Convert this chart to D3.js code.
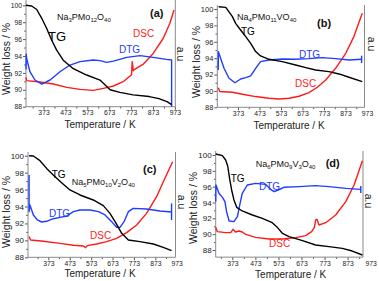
<!DOCTYPE html>
<html>
<head>
<meta charset="utf-8">
<script src="https://cdn.jsdelivr.net/npm/d3@7"></script>
<style>
  body { margin: 0; background: #fff; }
  svg { font-family: "Liberation Sans", Arial, sans-serif; }
</style>
</head>
<body>
<svg id="fig" width="379" height="281"></svg>
<script>
// ticks shared by all four panels
var xTicks = [373, 473, 573, 673, 773, 873, 973];
var xMinor = [323, 423, 523, 623, 723, 823, 923];
var yTicks = [88, 90, 92, 94, 96, 98, 100];
var yMinor = [89, 91, 93, 95, 97, 99];

// (a) Na3PMo12O40 : [T / K, value]  (DTG & DSC in a.u, read against left axis)
var tgA = [[293,100],[319,99.92],[342,99.5],[365,98.46],[387,97.28],[410,95.9],[433,94.7],[463,93.5],[509,92.5],[570,91.75],[631,91.15],[677,90.0],[722,89.7],[782,89.4],[856,89.2],[900,88.95],[937,88.6],[958,88.25]];
var dtgA = [[293,92.4],[294,94.2],[296,93.7],[311,92.14],[334,91.16],[365,90.68],[403,91.16],[448,92.14],[494,92.93],[540,93.33],[600,93.53],[631,93.45],[661,93.25],[692,93.4],[753,93.84],[814,94.04],[874,93.84],[935,93.6],[958,93.53],[958,88.0]];
var dscA = [[293,91.47],[296,91.08],[357,90.92],[418,90.68],[479,90.29],[540,90.05],[600,89.93],[646,90.17],[692,90.45],[737,90.96],[775,91.79],[778,93.33],[783,92.26],[789,92.42],[829,93.05],[874,94.3],[920,96.1],[950,97.87],[969,99.45]];

// (b) Na4PMo11VO40
var tgB = [[283,100.28],[316,100.2],[347,99.07],[362,98.25],[385,97.44],[409,96.63],[432,95.81],[455,94.8],[478,94.27],[517,93.86],[579,93.58],[641,93.17],[688,92.85],[734,92.56],[796,92.36],[843,92.07],[889,91.67],[951,91.14]];
var dtgB = [[281,92.56],[282,94.8],[292,93.98],[308,92.76],[331,91.54],[359,91.0],[385,91.46],[409,91.63],[432,91.83],[455,92.76],[478,93.58],[517,93.78],[579,93.9],[641,93.86],[703,93.94],[765,94.07],[827,93.94],[889,93.78],[948,93.86]];
var dscB = [[281,90.4],[288,89.92],[347,89.84],[393,89.6],[455,89.31],[517,89.11],[564,89.02],[610,89.11],[657,89.35],[703,89.8],[742,90.45],[781,91.34],[827,92.76],[874,94.59],[912,96.63],[951,99.47]];
var capB = [948, 93.4, 94.3];

// (c) Na5PMo10V2O40
var tgC = [[283,100],[303,99.96],[334,99.41],[365,98.5],[396,97.72],[435,96.81],[474,95.95],[521,95.36],[583,94.77],[630,94.1],[661,93.19],[685,92.21],[716,90.83],[747,90.05],[801,89.85],[864,89.57],[910,89.18],[949,88.79]];
var dtgC = [[283,97.72],[283,93.39],[287,94.18],[303,93.0],[322,92.41],[342,92.17],[365,92.25],[396,92.56],[428,92.72],[459,92.88],[490,93.39],[521,93.59],[568,93.59],[607,93.39],[638,93.0],[669,92.21],[692,91.54],[708,91.54],[727,92.21],[747,93.39],[770,93.78],[832,93.7],[895,93.47],[949,93.35]];
var dscC = [[283,90.44],[290,90.05],[350,89.89],[428,89.65],[490,89.42],[537,89.34],[547,89.14],[555,89.38],[599,89.57],[646,89.85],[692,90.24],[739,90.91],[786,91.82],[832,93.19],[879,95.16],[918,97.33],[954,99.29]];
var capC = [949, 92.4, 94.37];

// (d) Na6PMo9V3O40
var tgD = [[301,100.13],[330,99.92],[344,99.37],[353,98.61],[361,97.05],[370,95.58],[380,94.32],[392,93.39],[416,92.93],[460,92.42],[503,92.0],[546,91.45],[568,90.86],[590,90.11],[619,89.68],[677,89.18],[734,88.63],[792,88.42],[850,88.21],[893,87.87],[937,87.37]];
var dtgD = [[301,94.11],[302,96.21],[315,95.16],[330,94.65],[341,94.11],[348,92.84],[359,91.66],[380,91.58],[395,92.21],[405,93.68],[416,95.16],[438,96.21],[474,96.42],[517,96.29],[539,95.66],[554,95.37],[572,95.58],[597,95.92],[662,96.0],[734,96.13],[792,96.0],[865,95.79],[930,95.66]];
var dscD = [[301,90.86],[308,90.32],[344,90.19],[366,90.19],[376,90.61],[387,90.27],[402,90.4],[416,90.27],[431,89.98],[474,89.6],[532,89.39],[590,89.39],[648,89.56],[691,89.81],[717,90.32],[729,90.86],[734,91.79],[740,91.87],[749,91.16],[778,91.45],[821,92.42],[865,94.11],[901,96.21],[937,99.28]];
var capD = [930, 95.2, 96.1];

var formulas = {
  a: [["Na",0],["3",1],["PMo",0],["12",1],["O",0],["40",1]],
  b: [["Na",0],["4",1],["PMo",0],["11",1],["VO",0],["40",1]],
  c: [["Na",0],["5",1],["PMo",0],["10",1],["V",0],["2",1],["O",0],["40",1]],
  d: [["Na",0],["6",1],["PMo",0],["9",1],["V",0],["3",1],["O",0],["40",1]]
};

var BLACK = "#000", BLUE = "#1f3cff", RED = "#ff1a1a";

// layout of each panel (pixels)
var panels = [
  { key: "a", tg: tgA, dtg: dtgA, dsc: dscA, cap: null,
    tMin: 293, left: 26, x973: 174.9, right: 175.3, top: 0, y88: 106.7, y100: 5.3, yLow: 88,
    yFont: 6.8, xFont: 6.8,
    yTitle: [10, 59], au: [177, 54], xTitle: [100, 127.5],
    formula: [57, 20], tag: [150, 17], tgLab: [48, 41, 13], dtgLab: [119, 53], dscLab: [133, 37] },
  { key: "b", tg: tgB, dtg: dtgB, dsc: dscB, cap: capB,
    tMin: 276.7, left: 217.3, x973: 367, right: 364.5, top: 5, y88: 107.3, y100: 9, yLow: 88,
    yFont: 7.5, xFont: 6.8,
    yTitle: [199.5, 62], au: [367.5, 44], xTitle: [289, 128.5],
    formula: [237, 20], tag: [317, 27], tgLab: [241, 35, 10], dtgLab: [299, 58], dscLab: [295, 87] },
  { key: "c", tg: tgC, dtg: dtgC, dsc: dscC, cap: capC,
    tMin: 278, left: 28, x973: 176.7, right: 175.5, top: 152, y88: 257.3, y100: 155.7, yLow: 88,
    yFont: 8, xFont: 6.8,
    yTitle: [10, 212], au: [177.5, 202], xTitle: [100, 276.5],
    formula: [71.7, 185], tag: [143, 172.7], tgLab: [51.7, 178, 10], dtgLab: [49, 217], dscLab: [90, 239] },
  { key: "d", tg: tgD, dtg: dtgD, dsc: dscD, cap: capD,
    tMin: 300.9, left: 215.7, x973: 370.7, right: 363, top: 151, y88: 250, y100: 155, yLow: 87.1,
    yFont: 8, xFont: 6.8,
    yTitle: [197, 208], au: [365, 201], xTitle: [290.7, 278],
    formula: [255.7, 167], tag: [325.7, 167], tgLab: [230.7, 181.7, 10], dtgLab: [259, 190], dscLab: [269, 246.7] }
];

var svg = d3.select("#fig");

function drawPanel(p) {
  var x = d3.scaleLinear().domain([p.tMin, 973]).range([p.left, p.x973]);
  var y = d3.scaleLinear().domain([88, 100]).range([p.y88, p.y100]);
  var bottom = y(p.yLow);
  var g = svg.append("g").attr("class", "panel-" + p.key);

  // bottom axis (major + minor), tick marks only inside the frame
  var xa = g.append("g").attr("transform", "translate(0," + bottom + ")")
    .call(d3.axisBottom(x).tickValues(xTicks).tickSize(3).tickPadding(0.8).tickFormat(d3.format("d")));
  var xm = g.append("g").attr("transform", "translate(0," + bottom + ")")
    .call(d3.axisBottom(x).tickValues(xMinor).tickSize(1.8).tickFormat(""));
  [xa, xm].forEach(function(a) {
    a.select(".domain").remove();
    a.selectAll(".tick line").attr("stroke", "#555")
      .attr("display", function(d) { return x(d) > p.right + 0.5 ? "none" : null; });
  });
  xa.selectAll("text").attr("font-size", p.xFont).attr("fill", "#222").attr("font-family", null);

  // left axis
  var ya = g.append("g").attr("transform", "translate(" + p.left + ",0)")
    .call(d3.axisLeft(y).tickValues(yTicks).tickSize(3).tickPadding(1).tickFormat(d3.format("d")));
  var ym = g.append("g").attr("transform", "translate(" + p.left + ",0)")
    .call(d3.axisLeft(y).tickValues(yMinor).tickSize(1.8).tickFormat(""));
  [ya, ym].forEach(function(a) {
    a.select(".domain").remove();
    a.selectAll(".tick line").attr("stroke", "#555");
  });
  ya.selectAll("text").attr("font-size", p.yFont).attr("fill", "#222").attr("font-family", null);

  // frame: left, bottom, right
  g.append("path")
    .attr("d", "M" + p.left + "," + p.top + "V" + bottom + "H" + p.right + "V" + p.top)
    .attr("fill", "none").attr("stroke", "#8a8a8a").attr("stroke-width", 1);

  var line = d3.line().x(function(d) { return x(d[0]); }).y(function(d) { return y(d[1]); });
  [[p.dsc, RED], [p.dtg, BLUE], [p.tg, BLACK]].forEach(function(s) {
    g.append("path").datum(s[0]).attr("d", line)
      .attr("fill", "none").attr("stroke", s[1]).attr("stroke-width", 1.4)
      .attr("stroke-linejoin", "round");
  });
  if (p.cap) {
    g.append("line")
      .attr("x1", x(p.cap[0])).attr("x2", x(p.cap[0]))
      .attr("y1", y(p.cap[1])).attr("y2", y(p.cap[2]))
      .attr("stroke", BLUE).attr("stroke-width", 1.4);
  }

  // titles
  g.append("text").attr("transform", "translate(" + p.yTitle[0] + "," + p.yTitle[1] + ") rotate(-90)")
    .attr("text-anchor", "middle").attr("font-size", 10.5).attr("fill", "#222").text("Weight loss / %");
  g.append("text").attr("transform", "translate(" + p.au[0] + "," + p.au[1] + ") rotate(90)")
    .attr("text-anchor", "middle").attr("font-size", 10.5).attr("fill", "#222").text("a.u");
  g.append("text").attr("x", p.xTitle[0]).attr("y", p.xTitle[1])
    .attr("text-anchor", "middle").attr("font-size", 10).attr("fill", "#222").text("Temperature / K");

  // annotations: formula with subscripts
  var f = g.append("text").attr("x", p.formula[0]).attr("y", p.formula[1])
    .attr("font-size", 9).attr("fill", "#111");
  var shift = 0;
  formulas[p.key].forEach(function(part) {
    var target = part[1] ? 2.2 : 0;
    f.append("tspan").attr("font-size", part[1] ? 6 : 9)
      .attr("dy", target - shift)
      .text(part[0]);
    shift = target;
  });
  g.append("text").attr("x", p.tag[0]).attr("y", p.tag[1])
    .attr("font-size", 11).attr("font-weight", "bold").attr("fill", "#111").text("(" + p.key + ")");
  g.append("text").attr("x", p.tgLab[0]).attr("y", p.tgLab[1])
    .attr("font-size", p.tgLab[2]).attr("fill", BLACK).text("TG");
  g.append("text").attr("x", p.dtgLab[0]).attr("y", p.dtgLab[1])
    .attr("font-size", 10).attr("fill", BLUE).text("DTG");
  g.append("text").attr("x", p.dscLab[0]).attr("y", p.dscLab[1])
    .attr("font-size", 10).attr("fill", RED).text("DSC");
}

panels.forEach(drawPanel);
</script>
</body>
</html>
